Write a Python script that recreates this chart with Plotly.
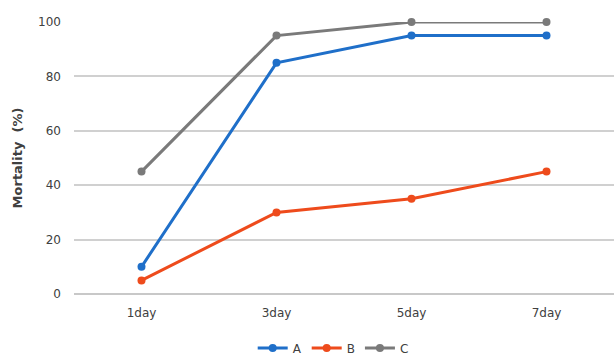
import plotly.graph_objects as go

days = ["1day", "3day", "5day", "7day"]
series_a = [10, 85, 95, 95]
series_b = [5, 30, 35, 45]
series_c = [45, 95, 100, 100]
y_ticks = [0, 20, 40, 60, 80, 100]

fig = go.Figure()
for name, vals, color in [
    ("A", series_a, "#1F6FC9"),
    ("B", series_b, "#EE4B1C"),
    ("C", series_c, "#7A7A7A"),
]:
    fig.add_trace(go.Scatter(
        x=days, y=vals, name=name, mode="lines+markers",
        line=dict(color=color, width=3),
        marker=dict(color=color, size=8),
        cliponaxis=False,
    ))

fig.update_layout(
    width=614, height=358,
    margin=dict(l=74, r=0, t=22, b=64),
    paper_bgcolor="white", plot_bgcolor="white",
    font=dict(family="DejaVu Sans", color="#595959", size=12),
    showlegend=True,
    legend=dict(orientation="h", x=0.48, xanchor="center",
                yref="container", y=0.028, yanchor="middle",
                font=dict(size=12, color="#404040"), itemwidth=30, tracegroupgap=0),
    xaxis=dict(showgrid=False, showline=False, ticks="", range=[-0.5, 3.5],
               ticklabelstandoff=10,
               tickfont=dict(size=12, color="#404040")),
    yaxis=dict(range=[0, 100], tickvals=y_ticks, showgrid=True, gridcolor="#D0D0D0",
               gridwidth=1.5, zeroline=True, zerolinecolor="#C8C8C8", zerolinewidth=1.5,
               ticks="", ticklabelstandoff=12,
               tickfont=dict(size=12, color="#404040"),
               title=dict(text="<b>Mortality  (%)</b>", font=dict(size=13, color="#404040"),
                          standoff=12)),
)

fig.write_html("out.html")
